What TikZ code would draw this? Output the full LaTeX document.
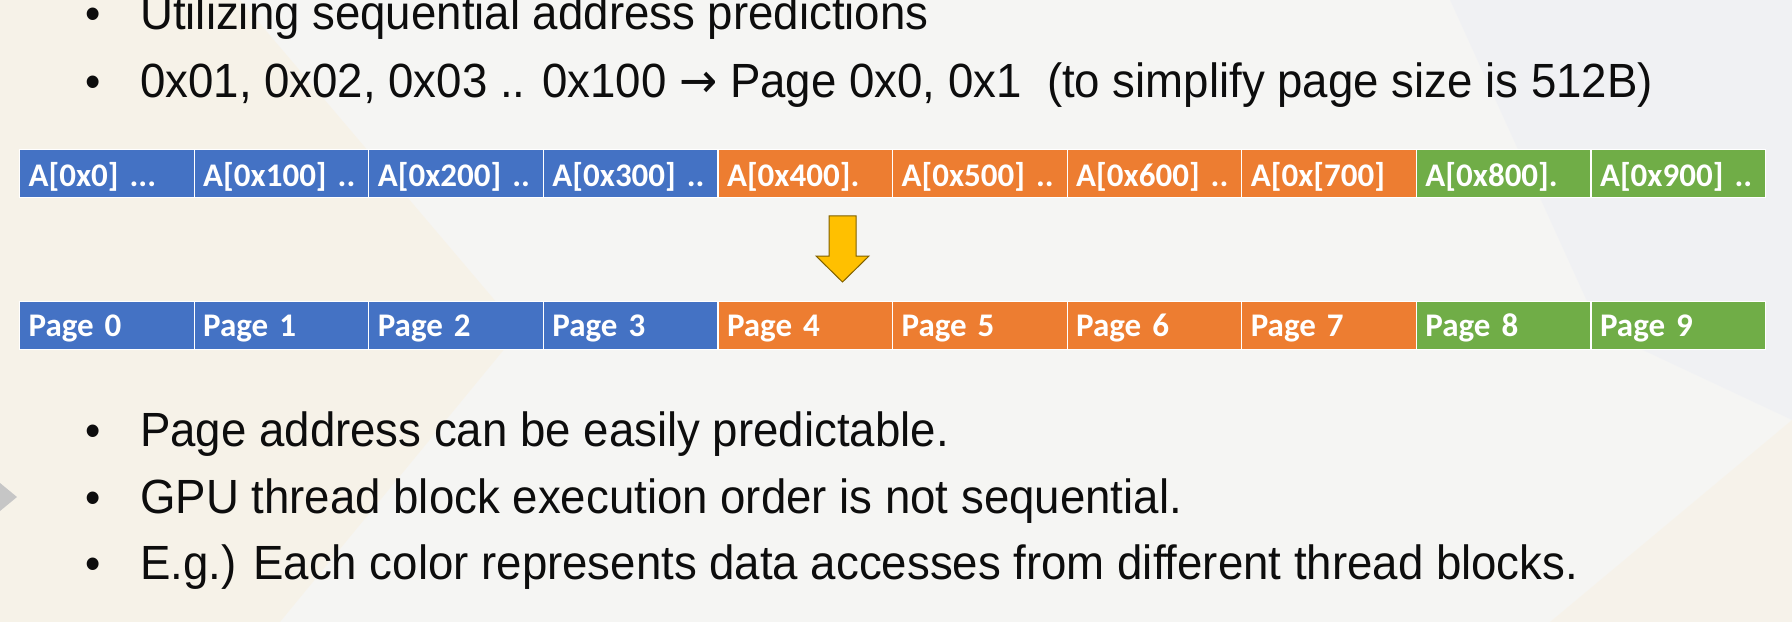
\documentclass[tikz,border=0pt]{standalone}
\usepackage{fontspec}
\setmainfont{Liberation Sans}[FakeStretch=0.95]
\newfontfamily\cellfont{Carlito}
\newfontfamily\symfont{DejaVu Sans}[FakeStretch=0.95]
\usetikzlibrary{calc}
\definecolor{bgc}{HTML}{F5F5F3}
\definecolor{bgbeige}{HTML}{F8F1E2}
\definecolor{bgblue}{HTML}{EDEFF3}
\definecolor{blk}{HTML}{4472C4}
\definecolor{org}{HTML}{ED7D31}
\definecolor{grn}{HTML}{70AD47}
\definecolor{arrfill}{HTML}{FFC000}
\definecolor{arrdraw}{HTML}{7F6000}
\definecolor{txt}{HTML}{0D0D0D}
\tikzset{
  cellbox/.style={draw=white, line width=1.2bp, text=white, inner xsep=9bp, inner ysep=0pt,
    text width=156.6bp, align=left, font=\cellfont\bfseries\fontsize{33bp}{36bp}\selectfont, anchor=north west},
  toprow/.style={cellbox, text height=37bp, text depth=11bp},
  botrow/.style={cellbox, text height=35bp, text depth=13bp},
  bullettext/.style={anchor=base west, inner sep=0pt, text=txt, font=\fontsize{48bp}{56bp}\selectfont},
  bulletdot/.style={anchor=base, inner sep=0pt, text=txt, font=\fontsize{46bp}{54bp}\selectfont},
  blockarrow/.style={fill=arrfill, draw=arrdraw, line width=1bp, line join=miter}
}
\begin{document}
\begin{tikzpicture}[x=1bp,y=-1bp]
\useasboundingbox (0,0) rectangle (1792,622);
% background
\fill[bgc] (0,0) rectangle (1792,622);
\fill[bgbeige, opacity=0.6] (0,0) -- (240,0) -- (520,330) -- (280,622) -- (0,622) -- cycle;
\fill[bgblue, opacity=0.5] (1450,0) -- (1792,0) -- (1792,420) -- (1600,330) -- cycle;
\fill[bgbeige, opacity=0.5] (1550,622) -- (1792,420) -- (1792,622) -- cycle;
\fill[gray!45] (0,483) -- (17,497) -- (0,511) -- cycle;

% address row
\foreach \i/\lab/\col in {0/{A[0x0] ...}/blk, 1/{A[0x100] ..}/blk, 2/{A[0x200] ..}/blk, 3/{A[0x300] ..}/blk,
  4/{A[0x400].}/org, 5/{A[0x500] ..}/org, 6/{A[0x600] ..}/org, 7/{A[0x[700]}/org,
  8/{A[0x800].}/grn, 9/{A[0x900] ..}/grn}{
  \node[toprow, fill=\col] (c\i) at ({19+174.6*\i},149) {\lab};
}
% page row
\foreach \i/\col in {0/blk,1/blk,2/blk,3/blk,4/org,5/org,6/org,7/org,8/grn,9/grn}{
  \node[botrow, fill=\col] (p\i) at ({19+174.6*\i},301) {Page \i};
}

% block arrow
\coordinate (atop) at (842.5,216);
\coordinate (atip) at (842.5,282);
\draw[blockarrow] ($(atop)+(-13.5,0)$) -- ($(atop)+(13.5,0)$) -- ($(atip)+(13.5,-26)$) -- ($(atip)+(26.5,-26)$)
  -- (atip) -- ($(atip)+(-26.5,-26)$) -- ($(atip)+(-13.5,-26)$) -- cycle;

% bullets top
\node[bulletdot] (d1) at (93,30) {•};
\node[bullettext] (t1) at (140,30) {Utilizing sequential address predictions};
\node[bulletdot] (d2) at (93,98) {•};
\node[bullettext] (t2) at (140,98) {0x01, 0x02, 0x03 .. 0x100 {\symfont →} Page 0x0, 0x1 \ (to simplify page size is 512B)};

% bullets bottom
\node[bulletdot] (d3) at (93,446) {•};
\node[bullettext] (t3) at (140,446) {Page address can be easily predictable.};
\node[bulletdot] (d4) at (93,513) {•};
\node[bullettext] (t4) at (140,513) {GPU thread block execution order is not sequential.};
\node[bulletdot] (d5) at (93,579) {•};
\node[bullettext] (t5) at (140,579) {E.g.) Each color represents data accesses from different thread blocks.};
\end{tikzpicture}
\end{document}
